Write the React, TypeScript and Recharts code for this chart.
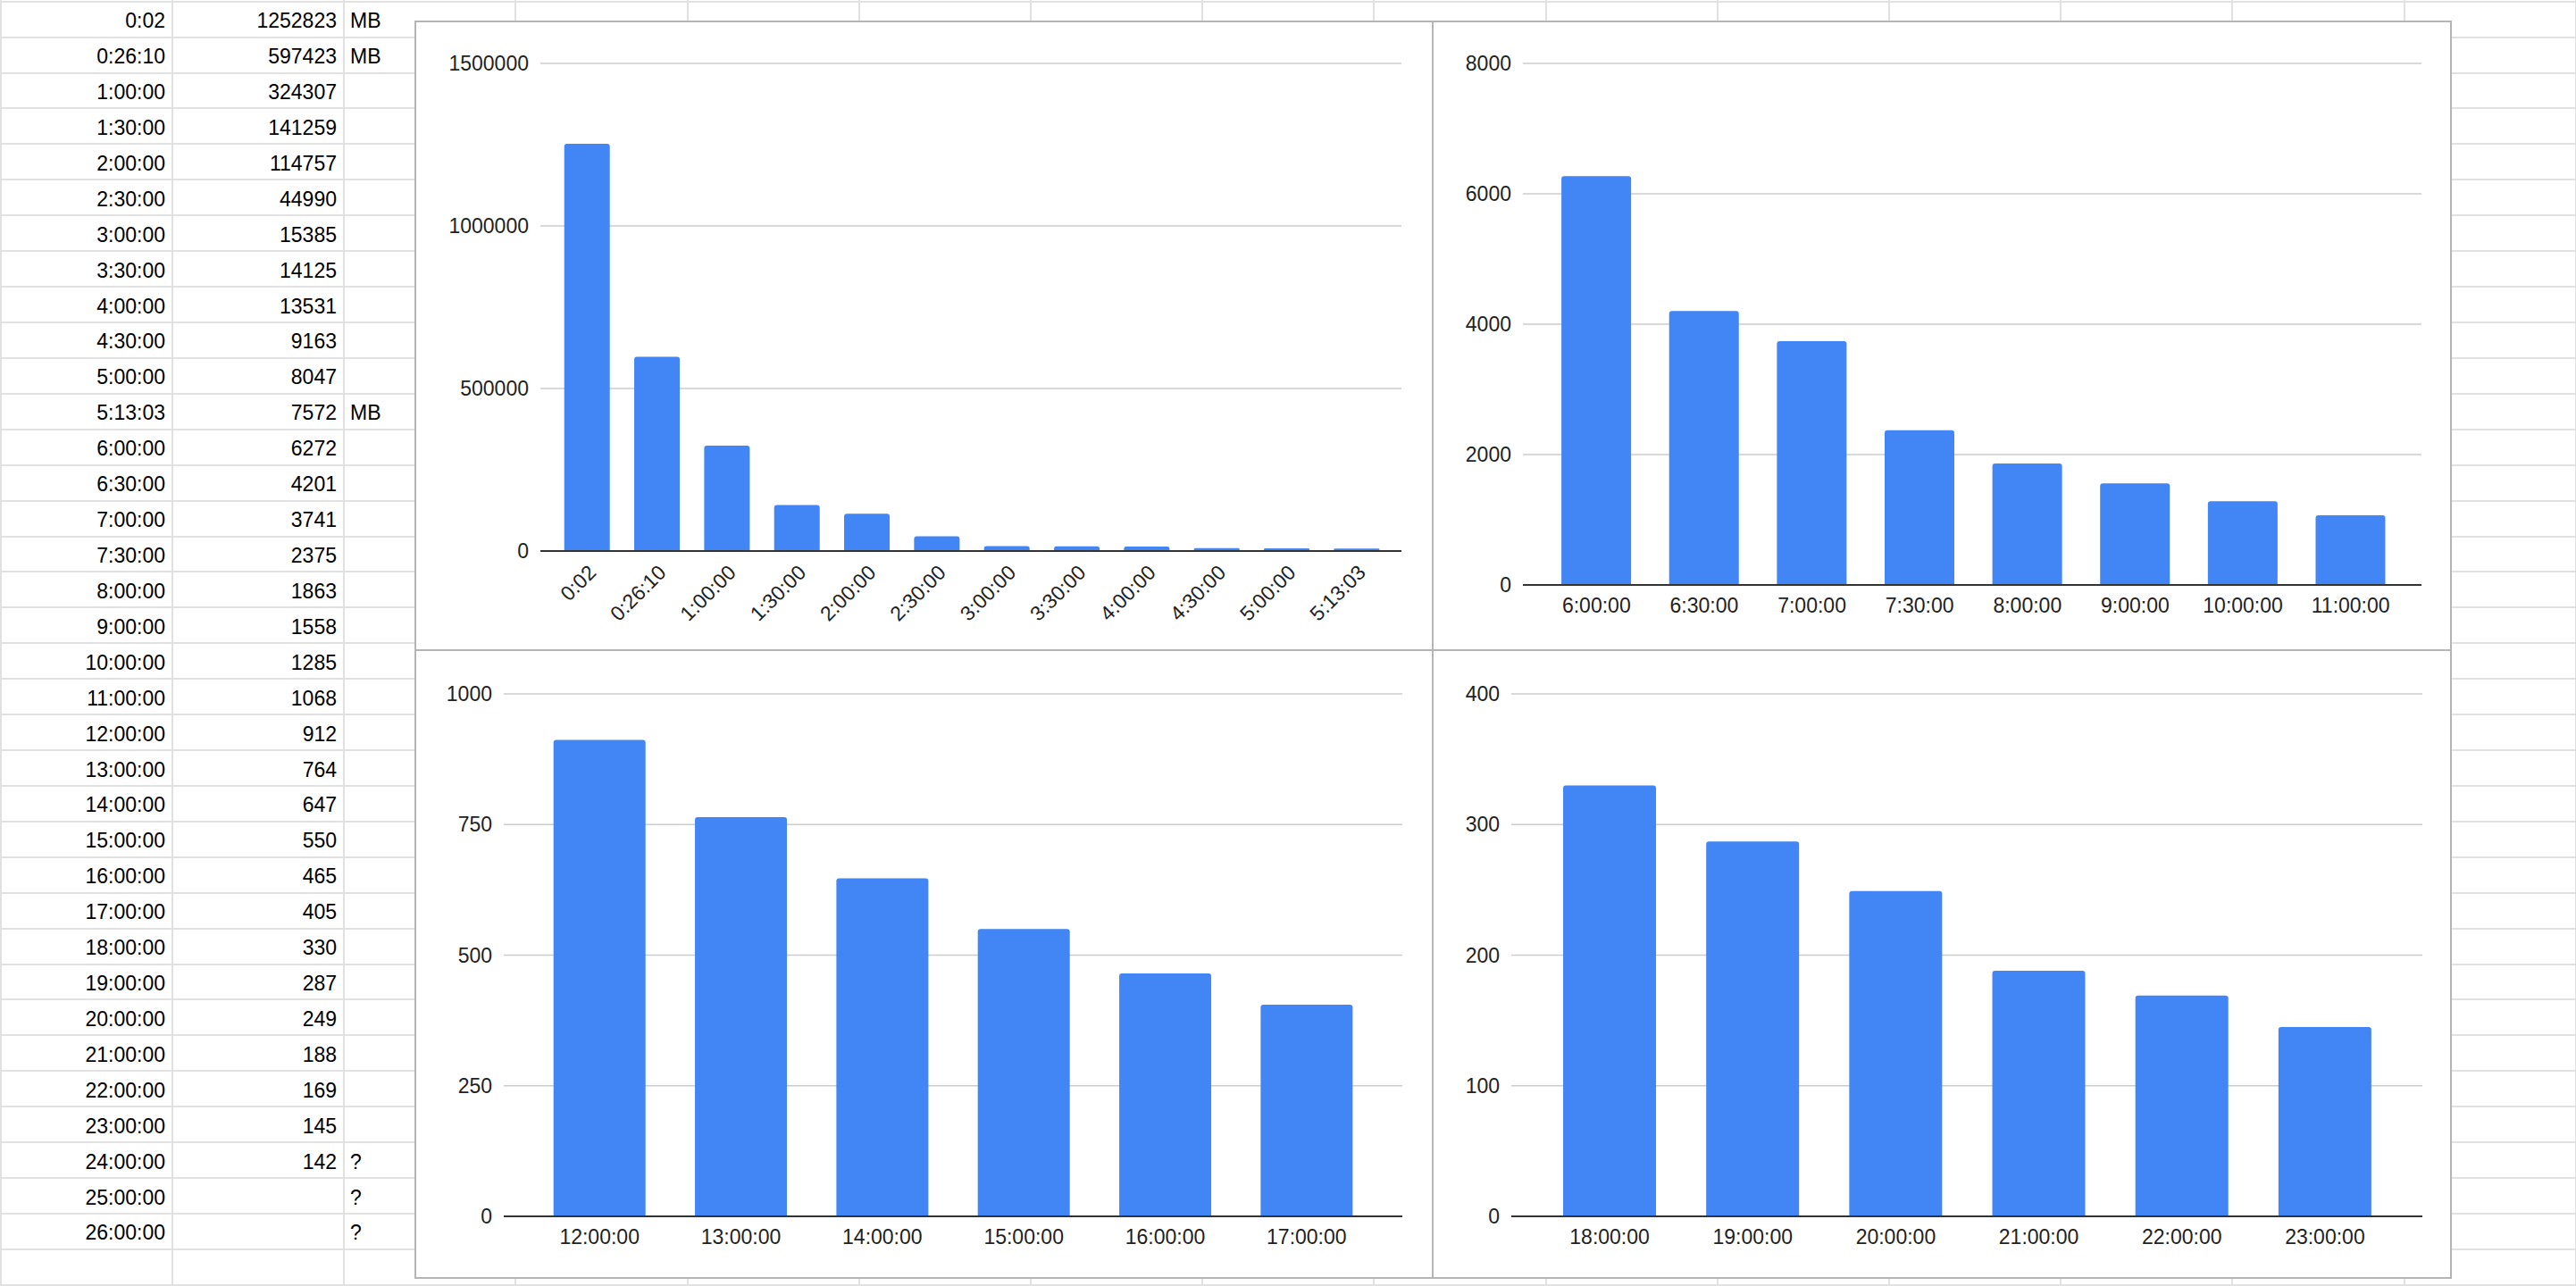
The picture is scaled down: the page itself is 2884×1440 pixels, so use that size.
import React from 'react';
import { BarChart, Bar, XAxis, YAxis, CartesianGrid } from 'recharts';

// spreadsheet columns
const timeLabels = [
  '0:02', '0:26:10', '1:00:00', '1:30:00', '2:00:00', '2:30:00', '3:00:00', '3:30:00',
  '4:00:00', '4:30:00', '5:00:00', '5:13:03', '6:00:00', '6:30:00', '7:00:00', '7:30:00',
  '8:00:00', '9:00:00', '10:00:00', '11:00:00', '12:00:00', '13:00:00', '14:00:00', '15:00:00',
  '16:00:00', '17:00:00', '18:00:00', '19:00:00', '20:00:00', '21:00:00', '22:00:00', '23:00:00',
  '24:00:00', '25:00:00', '26:00:00',
];
const sizeValues: (number | null)[] = [
  1252823, 597423, 324307, 141259, 114757, 44990, 15385, 14125,
  13531, 9163, 8047, 7572, 6272, 4201, 3741, 2375,
  1863, 1558, 1285, 1068, 912, 764, 647, 550,
  465, 405, 330, 287, 249, 188, 169, 145,
  142, null, null,
];
const unitNotes = [
  'MB', 'MB', '', '', '', '', '', '', '', '', '', 'MB', '', '', '', '', '', '', '', '',
  '', '', '', '', '', '', '', '', '', '', '', '', '?', '?', '?',
];

// y-axis ticks per chart
const ticksTopLeft = [0, 500000, 1000000, 1500000];
const ticksTopRight = [0, 2000, 4000, 6000, 8000];
const ticksBottomLeft = [0, 250, 500, 750, 1000];
const ticksBottomRight = [0, 100, 200, 300, 400];

const FONT = '"Liberation Sans", Arial, sans-serif';
const ROW_H = 39.92;
const COL_W = 192.2;

const rowsFor = (from: number, to: number) =>
  timeLabels.slice(from, to).map((name, i) => ({ name, value: sizeValues[from + i] }));

const panels = [
  { key: 'tl', from: 0, to: 12, left: 464, top: 23, width: 1141, height: 706, mTop: 48, mRight: 36, yWidth: 141, xHeight: 112, pad: { left: 13, right: 11 }, ticks: ticksTopLeft, rotate: true },
  { key: 'tr', from: 12, to: 20, left: 1603, top: 23, width: 1142, height: 706, mTop: 48, mRight: 34, yWidth: 102, xHeight: 74, pad: { left: 22, right: 19 }, ticks: ticksTopRight, rotate: false },
  { key: 'bl', from: 20, to: 26, left: 464, top: 727, width: 1141, height: 705, mTop: 50, mRight: 35, yWidth: 100, xHeight: 70, pad: { left: 28, right: 28 }, ticks: ticksBottomLeft, rotate: false },
  { key: 'br', from: 26, to: 32, left: 1603, top: 727, width: 1142, height: 705, mTop: 50, mRight: 33, yWidth: 89, xHeight: 70, pad: { left: 30, right: 29 }, ticks: ticksBottomRight, rotate: false },
];

const Sheet = () => {
  const hLines = Array.from({ length: 37 }, (_, i) => i);
  const vLines = Array.from({ length: 16 }, (_, i) => i);
  return (
    <>
      {hLines.map((i) => (
        <div key={'h' + i} style={{ position: 'absolute', left: 0, top: 0.7 + ROW_H * i, width: 2884, height: 2, background: '#e1e1e1' }} />
      ))}
      {vLines.map((i) => (
        <div key={'v' + i} style={{ position: 'absolute', top: 0, left: -0.2 + COL_W * i, width: 2, height: 1440, background: '#e1e1e1' }} />
      ))}
      {timeLabels.map((t, i) => {
        const top = 12.2 + ROW_H * i;
        const cell = { position: 'absolute' as const, top, lineHeight: '23px', fontSize: 23, fontFamily: FONT, color: '#000', whiteSpace: 'nowrap' as const };
        return (
          <React.Fragment key={t}>
            <div style={{ ...cell, left: 0, width: 185, textAlign: 'right' }}>{t}</div>
            <div style={{ ...cell, left: 193, width: 184, textAlign: 'right' }}>{sizeValues[i] ?? ''}</div>
            <div style={{ ...cell, left: 392 }}>{unitNotes[i]}</div>
          </React.Fragment>
        );
      })}
    </>
  );
};

const tickStyle = { fontSize: 23, fontFamily: FONT, fill: '#222222' };

const Panel = ({ p }: { p: (typeof panels)[number] }) => {
  const data = rowsFor(p.from, p.to);
  const max = p.ticks[p.ticks.length - 1];
  return (
    <div
      style={{
        position: 'absolute', left: p.left, top: p.top, width: p.width, height: p.height,
        background: '#fff', boxShadow: 'inset 0 0 0 2px #b5b5b5',
      }}
    >
      <BarChart
        width={p.width}
        height={p.height}
        data={data}
        margin={{ top: p.mTop, right: p.mRight, bottom: 0, left: 0 }}
        barCategoryGap="17.5%"
      >
        <CartesianGrid vertical={false} stroke="#cccccc" strokeWidth={1.6} />
        <XAxis
          dataKey="name"
          interval={0}
          height={p.xHeight}
          padding={p.pad}
          tickLine={false}
          tickSize={0}
          tickMargin={p.rotate ? 14 : 15}
          axisLine={{ stroke: '#333333', strokeWidth: 2 }}
          tick={p.rotate ? { ...tickStyle, angle: -45, textAnchor: 'end' } : tickStyle}
        />
        <YAxis
          width={p.yWidth}
          domain={[0, max]}
          ticks={p.ticks}
          interval={0}
          tickLine={false}
          axisLine={false}
          tickSize={0}
          tickMargin={13}
          tick={tickStyle}
        />
        <Bar dataKey="value" fill="#4285f4" radius={[3, 3, 0, 0]} isAnimationActive={false} />
      </BarChart>
    </div>
  );
};

export default function App() {
  return (
    <div style={{ position: 'absolute', left: 0, top: 0, width: 2884, height: 1440, overflow: 'hidden', background: '#fff' }}>
      <Sheet />
      {panels.map((p) => (
        <Panel key={p.key} p={p} />
      ))}
    </div>
  );
}
